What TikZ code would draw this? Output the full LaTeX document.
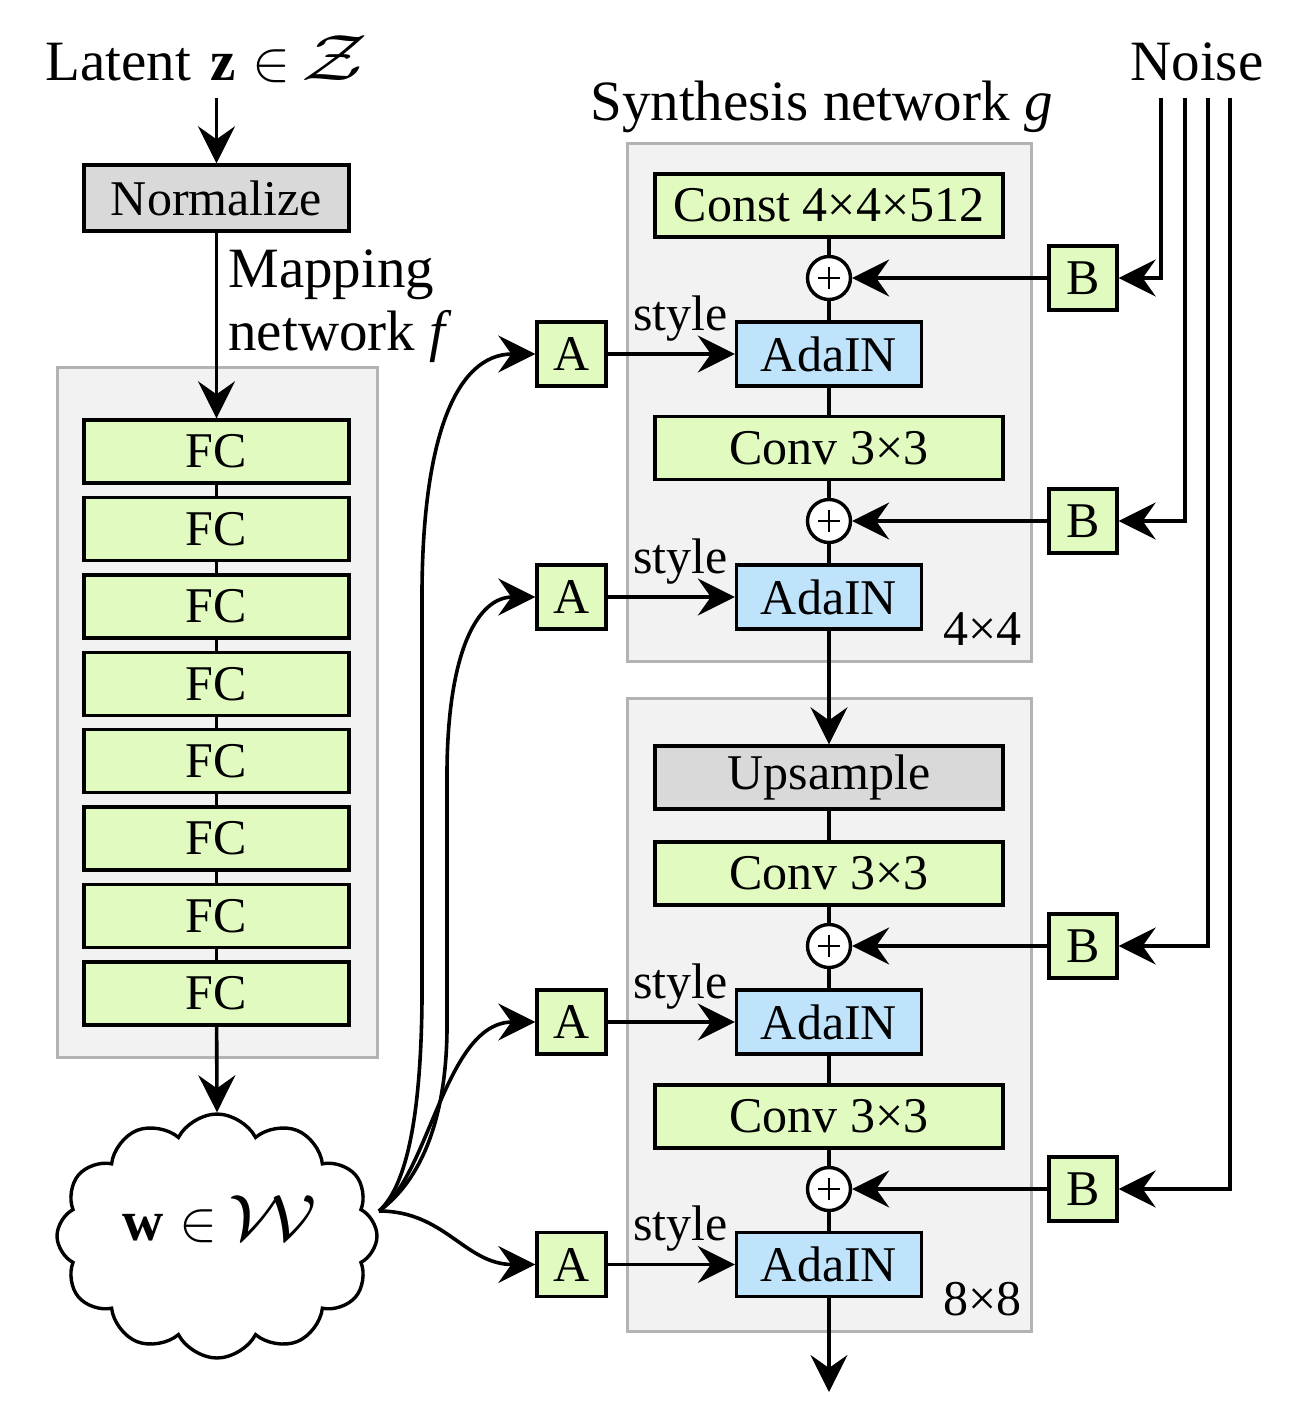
\documentclass[tikz,border=0pt]{standalone}
\usepackage{fix-cm}
\usepackage{graphicx}
\usepackage{fontspec}
\setmainfont{Liberation Serif}
\usetikzlibrary{arrows.meta,shapes.symbols}
\definecolor{grn}{HTML}{E0FAC0}
\definecolor{blu}{HTML}{BEE3FB}
\definecolor{gry}{HTML}{D9D9D9}
\definecolor{cbg}{HTML}{F2F2F2}
\definecolor{cbd}{HTML}{B3B3B3}
\newcommand{\bigcal}[1]{\scalebox{1.45}[1.15]{$\mathcal{#1}$}}
\begin{document}
\begin{tikzpicture}[x=0.5pt,y=-0.5pt,
  box/.style={draw=black, line width=1.7pt, inner sep=0pt, font=\fontsize{25}{30}\selectfont},
  wide/.style={box, fill=grn, minimum width=174pt, minimum height=31.5pt},
  fcbox/.style={box, fill=grn, minimum width=132.5pt, minimum height=31.5pt},
  ada/.style={box, fill=blu, minimum width=92.5pt, minimum height=32pt},
  small/.style={box, fill=grn, minimum width=34.5pt, minimum height=32pt},
  graybox/.style={box, fill=gry},
  sumnode/.style={circle, draw, line width=1.7pt, fill=white, minimum size=21.5pt, inner sep=0pt,
    path picture={\draw[line width=1pt]
      ([xshift=-5.5pt]path picture bounding box.center) -- ([xshift=5.5pt]path picture bounding box.center)
      ([yshift=-5.5pt]path picture bounding box.center) -- ([yshift=5.5pt]path picture bounding box.center);}},
  big/.style={inner sep=0pt, font=\fontsize{28.5}{34}\selectfont},
  lbl/.style={inner sep=0pt, font=\fontsize{25}{30}\selectfont},
  contain/.style={draw=cbd, fill=cbg, line width=1.5pt},
  conn/.style={line width=1.8pt},
  arr/.style={line width=1.8pt, -{Stealth[length=18.5pt,width=18.5pt,inset=6.5pt]}}
]
\useasboundingbox (0,0) rectangle (1302,1410);

% containers
\draw[contain] (57,367) rectangle (377,1057);
\draw[contain] (627,143) rectangle (1031,661);
\draw[contain] (627,698) rectangle (1031,1331);

% titles
\node[big, anchor=base west] (latent) at (45,80) {Latent\hspace{0.35em}$\textbf{z}\in$\hspace{0.2em}\bigcal{Z}};
\node[big, anchor=base west] (synth) at (590,120) {Synthesis network \textit{g}};
\node[big, anchor=base west] (noise) at (1130,80) {Noise};
\node[big, anchor=base west] (mapa) at (228,287) {Mapping};
\node[big, anchor=base west] (mapb) at (228,350) {network \textit{f}};

% mapping network
\coordinate (zin) at (216.5,98);
\node[graybox, minimum width=132.5pt, minimum height=33pt] (norm) at (216.5,198) {Normalize};
\foreach \i/\y in {1/451.5,2/528.9,3/606.3,4/683.7,5/761.1,6/838.5,7/915.9,8/993.3}
  \node[fcbox] (fc\i) at (216.5,\y) {FC};
\foreach \i/\j in {1/2,2/3,3/4,4/5,5/6,6/7,7/8}
  \draw[conn] (fc\i) -- (fc\j);
\draw[arr] (zin) -- (norm);
\draw[arr] (norm) -- (fc1);

% cloud
\node[cloud, draw, line width=1.7pt, fill=white, cloud puffs=12, cloud puff arc=125,
      cloud ignores aspect, minimum width=160pt, minimum height=122pt, inner sep=0pt] (cloud) at (217,1236) {};
\node[big, anchor=base] (wtext) at (220,1240) {$\textbf{w}\in$\hspace{0.2em}\bigcal{W}};
\draw[arr] (fc8) -- (cloud.north);
\coordinate (wout) at (379,1211);

% synthesis block 4x4
\node[wide] (const) at (829,205.5) {Const 4×4×512};
\node[sumnode] (p1) at (829,278) {};
\node[ada] (ad1) at (829,354) {AdaIN};
\node[wide] (conv1) at (829,448) {Conv 3×3};
\node[sumnode] (p2) at (829,521) {};
\node[ada] (ad2) at (829,597) {AdaIN};
\node[lbl, anchor=base east] (s44) at (1022,645) {4×4};

% synthesis block 8x8
\node[graybox, minimum width=174pt, minimum height=31.5pt] (up) at (829,777.5) {Upsample};
\node[wide] (conv2) at (829,873.5) {Conv 3×3};
\node[sumnode] (p3) at (829,946) {};
\node[ada] (ad3) at (829,1022) {AdaIN};
\node[wide] (conv3) at (829,1116.5) {Conv 3×3};
\node[sumnode] (p4) at (829,1189) {};
\node[ada] (ad4) at (829,1264.5) {AdaIN};
\node[lbl, anchor=base east] (s88) at (1022,1315) {8×8};
\coordinate (out) at (829,1392);

\draw[conn] (const) -- (p1);
\draw[conn] (p1) -- (ad1);
\draw[conn] (ad1) -- (conv1);
\draw[conn] (conv1) -- (p2);
\draw[conn] (p2) -- (ad2);
\draw[arr] (ad2) -- (up);
\draw[conn] (up) -- (conv2);
\draw[conn] (conv2) -- (p3);
\draw[conn] (p3) -- (ad3);
\draw[conn] (ad3) -- (conv3);
\draw[conn] (conv3) -- (p4);
\draw[conn] (p4) -- (ad4);
\draw[arr] (ad4) -- (out);

% A boxes and style arrows
\foreach \i/\y in {1/354,2/597,3/1022,4/1264.5}{
  \node[small] (A\i) at (571.5,\y) {A};
  \draw[arr] (A\i) -- (ad\i);
  \node[lbl, anchor=base west] (st\i) at (633,\y-24) {style};
}

% B boxes and noise
\foreach \i/\y/\x in {1/278/1161,2/521/1185,3/946/1208,4/1189/1230}{
  \node[small, minimum width=34pt] (B\i) at (1083,\y) {B};
  \coordinate (n\i) at (\x,98);
  \draw[arr] (n\i) |- (B\i.east);
  \draw[arr] (B\i) -- (p\i);
}

% curved style arrows from w
\draw[arr] (wout) .. controls (408,1185) and (421,1110) .. (422,1000)
  -- (422,590) .. controls (423,440) and (455,354) .. (A1.west);
\draw[arr] (wout) .. controls (415,1185) and (446,1130) .. (447,1030)
  -- (447,770) .. controls (448,650) and (478,597) .. (A2.west);
\draw[arr] (wout) .. controls (430,1175) and (445,1022) .. (A3.west);
\draw[arr] (wout) .. controls (445,1211) and (465,1264.5) .. (A4.west);
\end{tikzpicture}
\end{document}
